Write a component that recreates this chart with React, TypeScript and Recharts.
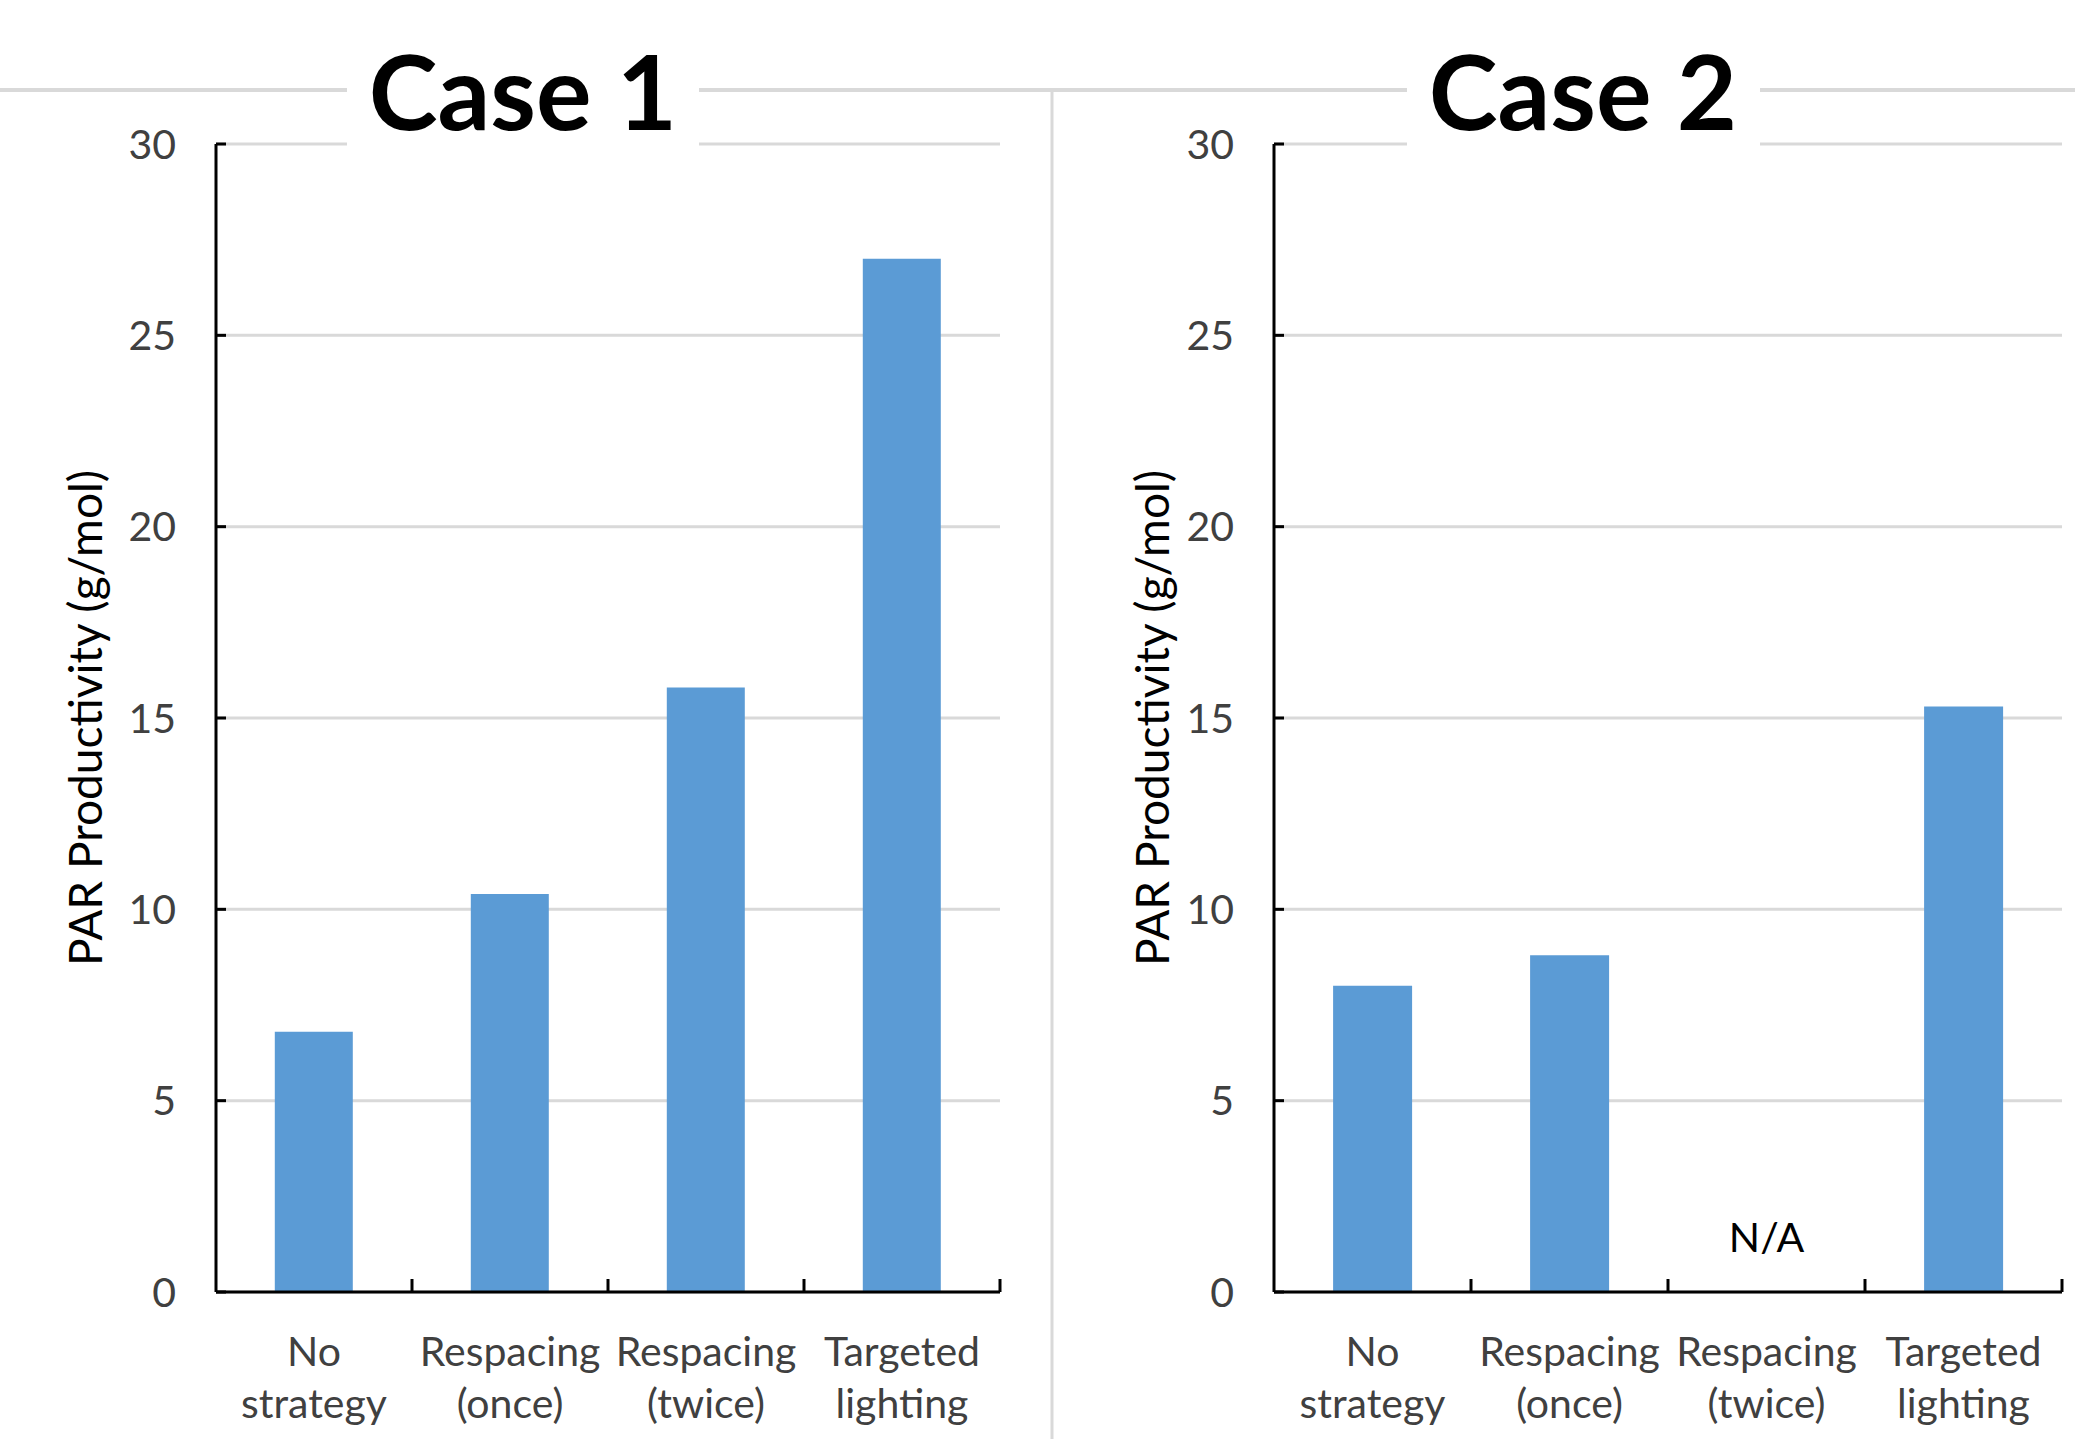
import React from 'react';
import { BarChart, Bar, XAxis, YAxis, CartesianGrid, ReferenceDot } from 'recharts';

const categories = ['No strategy', 'Respacing (once)', 'Respacing (twice)', 'Targeted lighting'];
const caseOneValues = [6.8, 10.4, 15.8, 27.0];
const caseTwoValues: (number | null)[] = [8.0, 8.8, null, 15.3];
const yTicks = [0, 5, 10, 15, 20, 25, 30];
const titles = ['Case 1', 'Case 2'];
const missingLabel = 'N/A';

const FONT = 'Lato, "Open Sans", sans-serif';
const TEXT = '#404040';
const GRID = '#d9d9d9';
const BAR = '#5b9bd5';

const toRows = (values: (number | null)[]) =>
  categories.map((name, i) => ({ name, value: values[i] }));

// Two-line category label plus an inward tick at the right edge of each band
const CategoryTick = (props: any) => {
  const { x, y, payload, half } = props;
  const h = payload.offset ?? half;
  const words = String(payload.value).split(' ');
  return (
    <g>
      <line x1={x + h} x2={x + h} y1={y - 13} y2={y} stroke="#000" strokeWidth={3} />
      <text x={x} y={y + 74} textAnchor="middle" fontSize={41} fontFamily={FONT} fill={TEXT}>
        {words[0]}
      </text>
      <text x={x} y={y + 126} textAnchor="middle" fontSize={41} fontFamily={FONT} fill={TEXT}>
        {words.slice(1).join(' ')}
      </text>
    </g>
  );
};

interface PanelProps {
  values: (number | null)[];
  left: number;
  width: number;
  axisWidth: number;
  marginRight: number;
  labelDx: number;
  showMissing?: boolean;
}

const Panel: React.FC<PanelProps> = ({ values, left, width, axisWidth, marginRight, labelDx, showMissing }) => {
  const rows = toRows(values);
  const plotWidth = width - axisWidth - marginRight;
  return (
    <div style={{ position: 'absolute', left, top: 0 }}>
      <BarChart
        width={width}
        height={1439}
        data={rows}
        margin={{ top: 144, right: marginRight, bottom: 0, left: 0 }}
        barCategoryGap="30%"
      >
        <CartesianGrid vertical={false} stroke={GRID} strokeWidth={3} />
        <XAxis
          dataKey="name"
          height={147}
          interval={0}
          tickSize={0}
          tickMargin={0}
          tickLine={false}
          axisLine={{ stroke: '#000', strokeWidth: 3 }}
          tick={<CategoryTick half={plotWidth / categories.length / 2} />}
        />
        <YAxis
          type="number"
          domain={[0, 30]}
          ticks={yTicks}
          interval={0}
          width={axisWidth}
          tickSize={-10}
          tickMargin={50}
          axisLine={{ stroke: '#000', strokeWidth: 3 }}
          tickLine={{ stroke: '#000', strokeWidth: 3 }}
          tick={{ fontSize: 41, fontFamily: FONT, fill: TEXT }}
          label={{
            value: 'PAR Productivity (g/mol)',
            angle: -90,
            position: 'center',
            dx: labelDx,
            style: { fontSize: 46, fontFamily: FONT, fill: '#000', textAnchor: 'middle' },
          }}
        />
        <Bar dataKey="value" fill={BAR} isAnimationActive={false} />
        {showMissing && (
          <ReferenceDot
            x={categories[2]}
            y={0}
            r={0}
            stroke="none"
            fill="none"
            label={{ value: missingLabel, position: 'top', offset: 40, fontSize: 41, fontFamily: FONT, fill: '#000' }}
          />
        )}
      </BarChart>
    </div>
  );
};

// Frame lines and panel titles sitting over both charts
const Frame: React.FC = () => (
  <svg
    width={2075}
    height={1439}
    style={{ position: 'absolute', left: 0, top: 0, pointerEvents: 'none' }}
  >
    <line x1={0} x2={2075} y1={90} y2={90} stroke={GRID} strokeWidth={4} />
    <line x1={1052} x2={1052} y1={90} y2={1439} stroke={GRID} strokeWidth={3} />
    <rect x={347} y={40} width={352} height={120} fill="#fff" />
    <rect x={1407} y={40} width={353} height={120} fill="#fff" />
    <text x={523} y={130} textAnchor="middle" fontSize={104} fontWeight={700} fontFamily={FONT} fill="#000">
      {titles[0]}
    </text>
    <text x={1583} y={130} textAnchor="middle" fontSize={104} fontWeight={700} fontFamily={FONT} fill="#000">
      {titles[1]}
    </text>
  </svg>
);

const App: React.FC = () => (
  <div style={{ position: 'absolute', left: 0, top: 0, width: 2075, height: 1439, background: '#fff', overflow: 'hidden' }}>
    <Panel values={caseOneValues} left={0} width={1052} axisWidth={216} marginRight={52} labelDx={-22} />
    <Panel values={caseTwoValues} left={1052} width={1023} axisWidth={222} marginRight={13} labelDx={-10} showMissing />
    <Frame />
  </div>
);

export default App;
